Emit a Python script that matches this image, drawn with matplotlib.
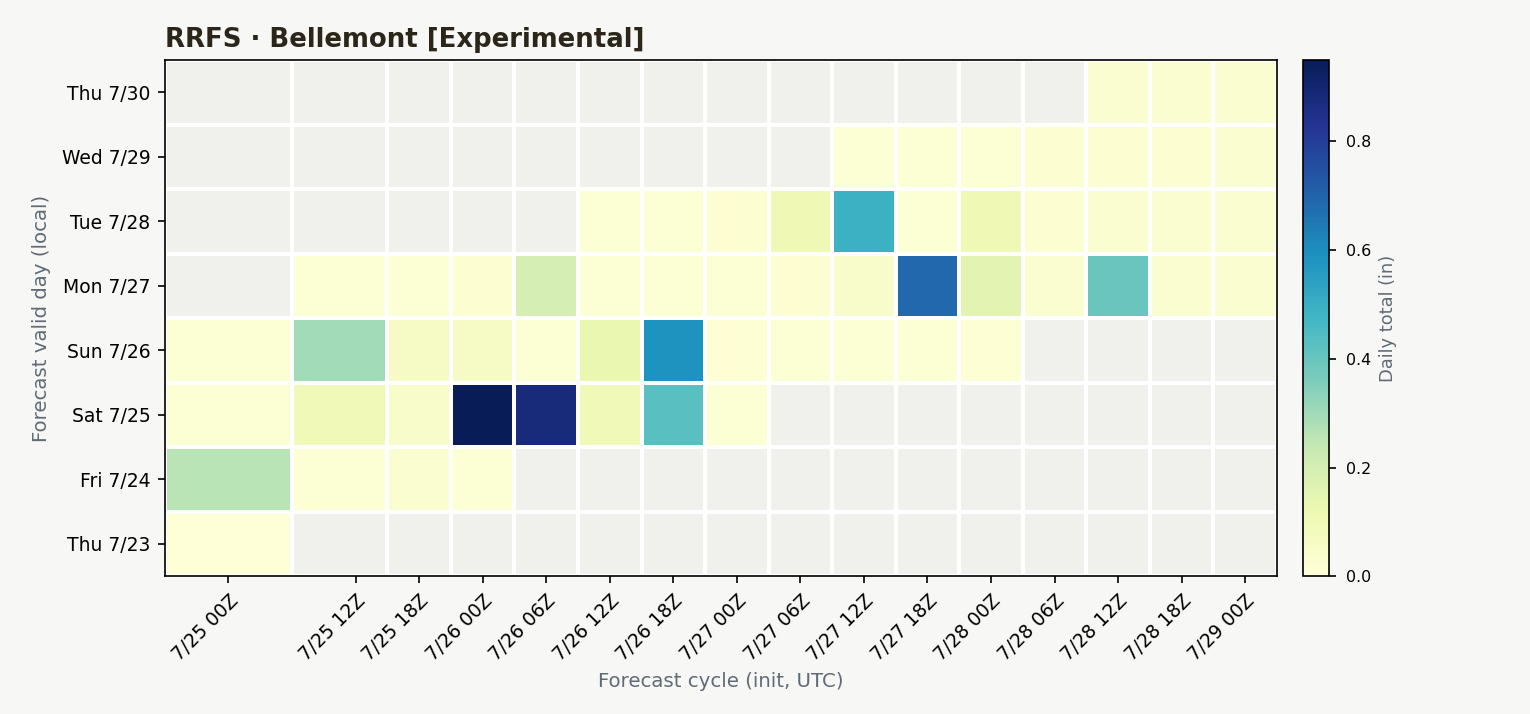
import numpy as np
import pandas as pd
import matplotlib
matplotlib.use("Agg")
import matplotlib.pyplot as plt

plt.rcParams['font.family'] = ['DejaVu Sans']

# ciclos de pronóstico (init, UTC)
ciclos = ["2026-07-25 00:00", "2026-07-25 12:00", "2026-07-25 18:00",
          "2026-07-26 00:00", "2026-07-26 06:00", "2026-07-26 12:00", "2026-07-26 18:00",
          "2026-07-27 00:00", "2026-07-27 06:00", "2026-07-27 12:00", "2026-07-27 18:00",
          "2026-07-28 00:00", "2026-07-28 06:00", "2026-07-28 12:00", "2026-07-28 18:00",
          "2026-07-29 00:00"]

dias = ["Thu 7/23", "Fri 7/24", "Sat 7/25", "Sun 7/26",
        "Mon 7/27", "Tue 7/28", "Wed 7/29", "Thu 7/30"]

n = np.nan
# total diario (in), una fila por día válido, columnas = ciclos
thu_723 = [0.01, n, n, n, n, n, n, n, n, n, n, n, n, n, n, n]
fri_724 = [0.26, 0.02, 0.03, 0.02, n, n, n, n, n, n, n, n, n, n, n, n]
sat_725 = [0.02, 0.10, 0.045, 0.95, 0.88, 0.10, 0.43, 0.02, n, n, n, n, n, n, n, n]
sun_726 = [0.02, 0.30, 0.06, 0.06, 0.02, 0.13, 0.59, 0.015, 0.02, 0.02, 0.02, 0.015,
           n, n, n, n]
mon_727 = [n, 0.02, 0.02, 0.025, 0.20, 0.02, 0.02, 0.02, 0.025, 0.045, 0.69, 0.15,
           0.03, 0.40, 0.03, 0.03]
tue_728 = [n, n, n, n, n, 0.02, 0.02, 0.025, 0.11, 0.49, 0.02, 0.11, 0.025, 0.03,
           0.03, 0.03]
wed_729 = [n, n, n, n, n, n, n, n, n, 0.02, 0.02, 0.02, 0.025, 0.025, 0.025, 0.03]
thu_730 = [n, n, n, n, n, n, n, n, n, n, n, n, n, 0.03, 0.03, 0.03]

datos = np.array([thu_723, fri_724, sat_725, sun_726,
                  mon_727, tue_728, wed_729, thu_730])

t = pd.to_datetime(ciclos)
horas = ((t - t[0]).total_seconds() / 3600.0).to_numpy()
medios = (horas[:-1] + horas[1:]) / 2
bordes_x = np.concatenate([[horas[0] - (horas[1] - horas[0]) / 2], medios,
                           [horas[-1] + (horas[-1] - horas[-2]) / 2]])
bordes_y = np.arange(len(dias) + 1) - 0.5

fondo = "#f7f7f5"
gris = "#5f6b77"

fig = plt.figure(figsize=(10.2, 4.76), dpi=150, facecolor=fondo)
ax = fig.add_axes([0.1078, 0.193, 0.7268, 0.723])
ax.set_facecolor(fondo)
cax = fig.add_axes([0.8516, 0.193, 0.017, 0.723])

cmap = plt.get_cmap("YlGnBu").copy()
cmap.set_bad("#f0f0ec")
malla = ax.pcolormesh(bordes_x, bordes_y, np.ma.masked_invalid(datos), cmap=cmap,
                      vmin=0, vmax=np.nanmax(datos), edgecolors="white", linewidth=1.0)

ax.set_xlim(bordes_x[0], bordes_x[-1])
ax.set_ylim(bordes_y[0], bordes_y[-1])
ax.set_xticks(horas)
ax.set_xticklabels([f"{d.month}/{d.day} {d.hour:02d}Z" for d in t],
                   rotation=45, ha="right", rotation_mode="anchor", fontsize=9)
ax.set_yticks(np.arange(len(dias)))
ax.set_yticklabels(dias, fontsize=9)

ax.set_xlabel("Forecast cycle (init, UTC)", fontsize=9.5, color=gris)
ax.set_ylabel("Forecast valid day (local)", fontsize=9.5, color=gris, labelpad=5)
ax.set_title("RRFS · Bellemont [Experimental]", loc="left", fontsize=12.5,
             fontweight="bold", color="#2b2619", pad=6)

cb = fig.colorbar(malla, cax=cax)
cb.set_ticks([0.0, 0.2, 0.4, 0.6, 0.8])
cb.ax.tick_params(labelsize=7.6, pad=4.5)
cb.set_label("Daily total (in)", fontsize=8.6, color=gris)

fig.savefig("out.png", dpi=150, facecolor=fondo)
